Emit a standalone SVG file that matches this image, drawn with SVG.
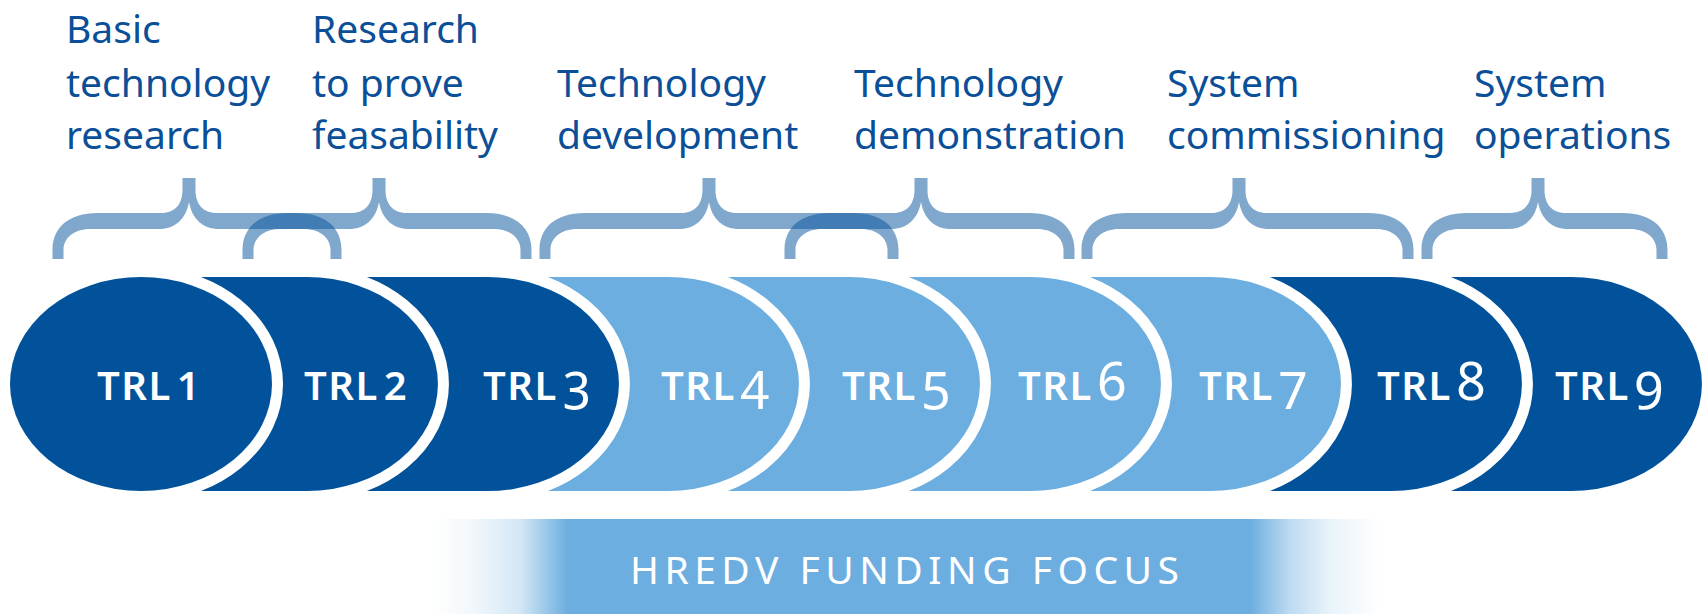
<svg xmlns="http://www.w3.org/2000/svg" width="1708" height="614" viewBox="0 0 1708 614">
<style>
.lbl{font-family:"Noto Sans","Open Sans","Liberation Sans",sans-serif;font-size:39px;fill:#0A4F98}
.dark{fill:#02529B}
.light{fill:#6CAEDF}
.seg{stroke:#FFFFFF;stroke-width:22;paint-order:stroke}
.trl{font-family:"Noto Sans","Open Sans","Liberation Sans",sans-serif;font-size:40px;font-weight:600;fill:#FFFFFF;letter-spacing:1.5px}
.dig{font-size:52px;font-weight:400;letter-spacing:0;font-feature-settings:"onum" 1}
.brace{fill:#02529B;fill-opacity:0.5}
.focus{font-family:"Noto Sans","Open Sans","Liberation Sans",sans-serif;font-size:39px;fill:#FFFFFF;letter-spacing:5.5px}
</style>
<defs>
<clipPath id="band"><rect x="0" y="277" width="1708" height="214"/></clipPath>
<linearGradient id="fade" gradientUnits="userSpaceOnUse" x1="430" y1="0" x2="1380" y2="0">
<stop offset="0" stop-color="#6CAEDF" stop-opacity="0"/>
<stop offset="0.042" stop-color="#6CAEDF" stop-opacity="0.08"/>
<stop offset="0.095" stop-color="#6CAEDF" stop-opacity="0.3"/>
<stop offset="0.145" stop-color="#6CAEDF" stop-opacity="1"/>
<stop offset="0.863" stop-color="#6CAEDF" stop-opacity="1"/>
<stop offset="0.905" stop-color="#6CAEDF" stop-opacity="0.45"/>
<stop offset="0.947" stop-color="#6CAEDF" stop-opacity="0.15"/>
<stop offset="1" stop-color="#6CAEDF" stop-opacity="0"/>
</linearGradient>
</defs>

<g id="labels">
<g id="label-basic"><text class="lbl" x="66" y="43">Basic</text><text class="lbl" x="66" y="97">technology</text><text class="lbl" x="66" y="149">research</text></g>
<g id="label-feasibility"><text class="lbl" x="312" y="43">Research</text><text class="lbl" x="312" y="97">to prove</text><text class="lbl" x="312" y="149">feasability</text></g>
<g id="label-development"><text class="lbl" x="557" y="97">Technology</text><text class="lbl" x="557" y="149">development</text></g>
<g id="label-demonstration"><text class="lbl" x="854" y="97">Technology</text><text class="lbl" x="854" y="149">demonstration</text></g>
<g id="label-commissioning"><text class="lbl" x="1167" y="97">System</text><text class="lbl" x="1167" y="149">commissioning</text></g>
<g id="label-operations"><text class="lbl" x="1474" y="97">System</text><text class="lbl" x="1474" y="149">operations</text></g>
</g>

<g id="connectors">
<path class="brace" d="M 52.5 259 V 250 C 52.5 228 68 213 98 213 H 161 C 176 213 182.5 203 182.5 190 V 178 H 195.5 V 190 C 195.5 203 202 213 217 213 H 296 C 326 213 341.5 228 341.5 250 V 259 H 330.5 V 250 C 330.5 238 320 229 304 229 H 219 C 203 229 192 219 189 202 C 186 219 175 229 159 229 H 90 C 74 229 63.5 238 63.5 250 V 259 Z"/>
<path class="brace" d="M 242.5 259 V 250 C 242.5 228 258 213 288 213 H 351 C 366 213 372.5 203 372.5 190 V 178 H 385.5 V 190 C 385.5 203 392 213 407 213 H 486 C 516 213 531.5 228 531.5 250 V 259 H 520.5 V 250 C 520.5 238 510 229 494 229 H 409 C 393 229 382 219 379 202 C 376 219 365 229 349 229 H 280 C 264 229 253.5 238 253.5 250 V 259 Z"/>
<path class="brace" d="M 539.5 259 V 250 C 539.5 228 555 213 585 213 H 681 C 696 213 702.5 203 702.5 190 V 178 H 715.5 V 190 C 715.5 203 722 213 737 213 H 853 C 883 213 898.5 228 898.5 250 V 259 H 887.5 V 250 C 887.5 238 877 229 861 229 H 739 C 723 229 712 219 709 202 C 706 219 695 229 679 229 H 577 C 561 229 550.5 238 550.5 250 V 259 Z"/>
<path class="brace" d="M 784.5 259 V 250 C 784.5 228 800 213 830 213 H 893 C 908 213 914.5 203 914.5 190 V 178 H 927.5 V 190 C 927.5 203 934 213 949 213 H 1029 C 1059 213 1074.5 228 1074.5 250 V 259 H 1063.5 V 250 C 1063.5 238 1053 229 1037 229 H 951 C 935 229 924 219 921 202 C 918 219 907 229 891 229 H 822 C 806 229 795.5 238 795.5 250 V 259 Z"/>
<path class="brace" d="M 1081.5 259 V 250 C 1081.5 228 1097 213 1127 213 H 1211 C 1226 213 1232.5 203 1232.5 190 V 178 H 1245.5 V 190 C 1245.5 203 1252 213 1267 213 H 1368 C 1398 213 1413.5 228 1413.5 250 V 259 H 1402.5 V 250 C 1402.5 238 1392 229 1376 229 H 1269 C 1253 229 1242 219 1239 202 C 1236 219 1225 229 1209 229 H 1119 C 1103 229 1092.5 238 1092.5 250 V 259 Z"/>
<path class="brace" d="M 1421.5 259 V 250 C 1421.5 228 1437 213 1467 213 H 1510 C 1525 213 1531.5 203 1531.5 190 V 178 H 1544.5 V 190 C 1544.5 203 1551 213 1566 213 H 1622 C 1652 213 1667.5 228 1667.5 250 V 259 H 1656.5 V 250 C 1656.5 238 1646 229 1630 229 H 1568 C 1552 229 1541 219 1538 202 C 1535 219 1524 229 1508 229 H 1459 C 1443 229 1432.5 238 1432.5 250 V 259 Z"/>
</g>

<g id="trl9"><path class="dark seg" clip-path="url(#band)" d="M 1391 277 H 1571 A 131 107 0 0 1 1571 491 H 1391 Z"/><text class="trl" x="1555" y="400">TRL<tspan class="dig" dx="5">9</tspan></text></g>
<g id="trl8"><path class="dark seg" clip-path="url(#band)" d="M 1210 277 H 1391 A 131 107 0 0 1 1391 491 H 1210 Z"/><text class="trl" x="1377" y="400">TRL<tspan class="dig" dx="5">8</tspan></text></g>
<g id="trl7"><path class="light seg" clip-path="url(#band)" d="M 1030 277 H 1210 A 131 107 0 0 1 1210 491 H 1030 Z"/><text class="trl" x="1199" y="400">TRL<tspan class="dig" dx="5">7</tspan></text></g>
<g id="trl6"><path class="light seg" clip-path="url(#band)" d="M 849 277 H 1030 A 131 107 0 0 1 1030 491 H 849 Z"/><text class="trl" x="1018" y="400">TRL<tspan class="dig" dx="5">6</tspan></text></g>
<g id="trl5"><path class="light seg" clip-path="url(#band)" d="M 668 277 H 849 A 131 107 0 0 1 849 491 H 668 Z"/><text class="trl" x="842" y="400">TRL<tspan class="dig" dx="5">5</tspan></text></g>
<g id="trl4"><path class="light seg" clip-path="url(#band)" d="M 488 277 H 668 A 131 107 0 0 1 668 491 H 488 Z"/><text class="trl" x="661" y="400">TRL<tspan class="dig" dx="5">4</tspan></text></g>
<g id="trl3"><path class="dark seg" clip-path="url(#band)" d="M 307 277 H 488 A 131 107 0 0 1 488 491 H 307 Z"/><text class="trl" x="483" y="400">TRL<tspan class="dig" dx="5">3</tspan></text></g>
<g id="trl2"><path class="dark seg" clip-path="url(#band)" d="M 141 277 H 307 A 131 107 0 0 1 307 491 H 141 Z"/><text class="trl" x="304" y="400">TRL<tspan dx="5">2</tspan></text></g>
<g id="trl1"><ellipse class="dark seg" clip-path="url(#band)" cx="141" cy="384" rx="131" ry="107"/><text class="trl" x="97" y="400">TRL<tspan dx="5">1</tspan></text></g>

<g id="funding-focus">
<rect x="430" y="519" width="950" height="95" fill="url(#fade)"/>
<text class="focus" x="630" y="584">HREDV FUNDING FOCUS</text>
</g>
</svg>
